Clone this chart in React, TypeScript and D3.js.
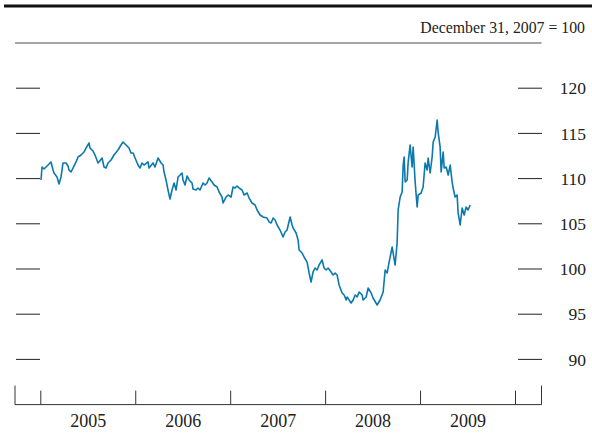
import React from "react";
import * as d3 from "d3";

// Decimal years of observations
const years: number[] = [
  2005.002, 2005.013, 2005.034, 2005.076, 2005.107, 2005.129, 2005.139, 2005.171, 2005.192, 2005.213,
  2005.234, 2005.266, 2005.287, 2005.297, 2005.318, 2005.339, 2005.371, 2005.392, 2005.424, 2005.455,
  2005.476, 2005.508, 2005.518, 2005.55, 2005.571, 2005.603, 2005.613, 2005.645, 2005.666, 2005.687,
  2005.708, 2005.74, 2005.771, 2005.813, 2005.845, 2005.866, 2005.898, 2005.929, 2005.95, 2005.972,
  2005.993, 2006.024, 2006.045, 2006.066, 2006.087, 2006.13, 2006.14, 2006.182, 2006.203, 2006.235,
  2006.267, 2006.288, 2006.298, 2006.319, 2006.34, 2006.361, 2006.382, 2006.404, 2006.425, 2006.446,
  2006.488, 2006.498, 2006.519, 2006.541, 2006.562, 2006.593, 2006.604, 2006.635, 2006.656, 2006.677,
  2006.709, 2006.73, 2006.751, 2006.772, 2006.804, 2006.825, 2006.857, 2006.878, 2006.909, 2006.92,
  2006.951, 2006.973, 2007.004, 2007.025, 2007.046, 2007.067, 2007.088, 2007.12, 2007.141, 2007.173,
  2007.194, 2007.225, 2007.257, 2007.278, 2007.31, 2007.341, 2007.383, 2007.405, 2007.426, 2007.447,
  2007.468, 2007.489, 2007.52, 2007.552, 2007.573, 2007.594, 2007.626, 2007.647, 2007.657, 2007.689,
  2007.71, 2007.721, 2007.752, 2007.773, 2007.805, 2007.826, 2007.847, 2007.868, 2007.889, 2007.91,
  2007.931, 2007.963, 2007.984, 2008.005, 2008.026, 2008.058, 2008.079, 2008.1, 2008.121, 2008.142,
  2008.174, 2008.195, 2008.216, 2008.226, 2008.247, 2008.269, 2008.29, 2008.311, 2008.332, 2008.353,
  2008.385, 2008.395, 2008.427, 2008.448, 2008.479, 2008.5, 2008.543, 2008.574, 2008.606, 2008.627,
  2008.648, 2008.669, 2008.701, 2008.711, 2008.732, 2008.753, 2008.764, 2008.785, 2008.806, 2008.817,
  2008.827, 2008.838, 2008.859, 2008.869, 2008.89, 2008.911, 2008.922, 2008.943, 2008.964, 2008.975,
  2009.006, 2009.027, 2009.048, 2009.069, 2009.08, 2009.101, 2009.122, 2009.133, 2009.154, 2009.175,
  2009.185, 2009.206, 2009.217, 2009.238, 2009.249, 2009.27, 2009.291, 2009.312, 2009.333, 2009.343,
  2009.364, 2009.385, 2009.396, 2009.417, 2009.438, 2009.459, 2009.48, 2009.501, 2009.522,
];

// Index values, December 31, 2007 = 100
const values: number[] = [
  109.85, 111.28, 111.06, 111.5, 111.84, 110.95, 110.62, 110.18, 109.4, 110.18,
  111.73, 111.73, 111.39, 110.95, 110.73, 111.17, 111.84, 112.39, 112.61, 112.94,
  113.38, 113.94, 113.38, 113.05, 112.61, 111.73, 111.84, 112.28, 111.28, 111.17,
  111.73, 112.06, 112.61, 113.16, 113.72, 114.05, 113.72, 113.38, 112.83, 112.83,
  112.28, 111.5, 111.17, 111.73, 111.5, 111.84, 111.17, 111.73, 111.28, 112.28,
  111.73, 111.5, 110.73, 109.85, 108.74, 107.74, 108.74, 109.51, 108.74, 110.18,
  110.62, 109.85, 109.29, 110.29, 109.85, 109.51, 108.85, 108.74, 108.96, 108.74,
  109.51, 109.29, 109.51, 110.07, 109.62, 109.29, 109.07, 108.52, 107.96, 107.3,
  107.96, 108.19, 107.96, 109.07, 108.96, 109.18, 108.96, 108.74, 108.19, 108.41,
  107.85, 107.3, 107.08, 106.53, 105.97, 105.75, 105.64, 105.2, 105.09, 105.64,
  105.42, 104.87, 104.31, 103.54, 104.09, 104.31, 105.75, 104.87, 104.54, 103.98,
  103.21, 102.1, 101.77, 101.33, 100.77, 99.56, 98.56, 99.67, 100.11, 99.89,
  100.44, 101.0, 100.11, 99.89, 100.11, 99.67, 99.34, 99.56, 99.34, 98.23,
  97.35, 97.12, 96.57, 96.9, 96.57, 96.24, 96.57, 97.12, 96.9, 97.46,
  97.12, 96.57, 96.9, 97.9, 97.35, 96.79, 96.02, 96.57, 97.46, 99.89,
  99.56, 100.77, 102.43, 101.77, 100.44, 102.88, 106.53, 107.96, 108.52, 111.5,
  112.39, 109.62, 109.85, 111.73, 113.72, 111.28, 113.5, 109.62, 106.86, 108.19,
  108.41, 109.07, 111.73, 110.95, 112.28, 110.62, 112.39, 114.05, 114.6, 116.48,
  115.15, 113.5, 110.73, 112.94, 111.17, 111.28, 110.4, 111.5, 109.62, 108.96,
  107.96, 108.19, 106.19, 104.87, 106.75, 105.97, 106.86, 106.53, 107.08,
];

const yearTicks: number[] = [2005, 2006, 2007, 2008, 2009, 2010];
const yearLabels: number[] = [2005, 2006, 2007, 2008, 2009];
const valueTicks: number[] = [90, 95, 100, 105, 110, 115, 120];
const subtitle = "December 31, 2007 = 100";

const W = 592;
const H = 434;
const axisLeft = 15;
const axisRight = 541.5;
const serif = "'Liberation Serif', 'Times New Roman', serif";

export default function App() {
  const x = d3.scaleLinear().domain([2005, 2010]).range([40.8, 515.5]);
  const y = d3.scaleLinear().domain([85, 125]).range([404.6, 43]);
  const pts = years.map((t, i) => [t, values[i]] as [number, number]);
  const line = d3
    .line<[number, number]>()
    .x((d) => x(d[0]))
    .y((d) => y(d[1]));
  const base = y(85);

  return (
    <svg
      width={W}
      height={H}
      style={{ position: "absolute", left: 0, top: 0, background: "#fff" }}
    >
      <rect x={0} y={0} width={W} height={H} fill="#fff" />
      {/* top rule */}
      <line x1={4} x2={W} y1={6} y2={6} stroke="#111" strokeWidth={3} />
      <text
        x={585}
        y={33}
        textAnchor="end"
        fontFamily={serif}
        fontSize={15.8}
        fill="#222"
      >
        {subtitle}
      </text>
      <line x1={axisLeft} x2={axisRight} y1={y(125)} y2={y(125)} stroke="#888" strokeWidth={1.6} />

      {/* value ticks both sides */}
      {valueTicks.map((v) => (
        <g key={v}>
          <line x1={16} x2={40} y1={y(v)} y2={y(v)} stroke="#222" strokeWidth={1} />
          <line x1={518} x2={542} y1={y(v)} y2={y(v)} stroke="#222" strokeWidth={1} />
          <text
            x={586}
            y={y(v)}
            dy="0.35em"
            textAnchor="end"
            fontFamily={serif}
            fontSize={17.5}
            fill="#222"
          >
            {v}
          </text>
        </g>
      ))}

      {/* x axis */}
      <line x1={axisLeft} x2={axisRight} y1={base} y2={base} stroke="#333" strokeWidth={1} />
      <line x1={axisLeft} x2={axisLeft} y1={base - 19} y2={base} stroke="#333" strokeWidth={1} />
      <line x1={axisRight} x2={axisRight} y1={base - 19} y2={base} stroke="#333" strokeWidth={1} />
      {yearTicks.map((t) => (
        <line key={t} x1={x(t)} x2={x(t)} y1={base - 14} y2={base} stroke="#333" strokeWidth={1} />
      ))}
      {yearLabels.map((t) => (
        <text
          key={t}
          x={x(t + 0.5)}
          y={427}
          textAnchor="middle"
          fontFamily={serif}
          fontSize={18}
          fill="#222"
        >
          {t}
        </text>
      ))}

      <path d={line(pts) || ""} fill="none" stroke="#0b78ae" strokeWidth={1.6} strokeLinejoin="round" />
    </svg>
  );
}
